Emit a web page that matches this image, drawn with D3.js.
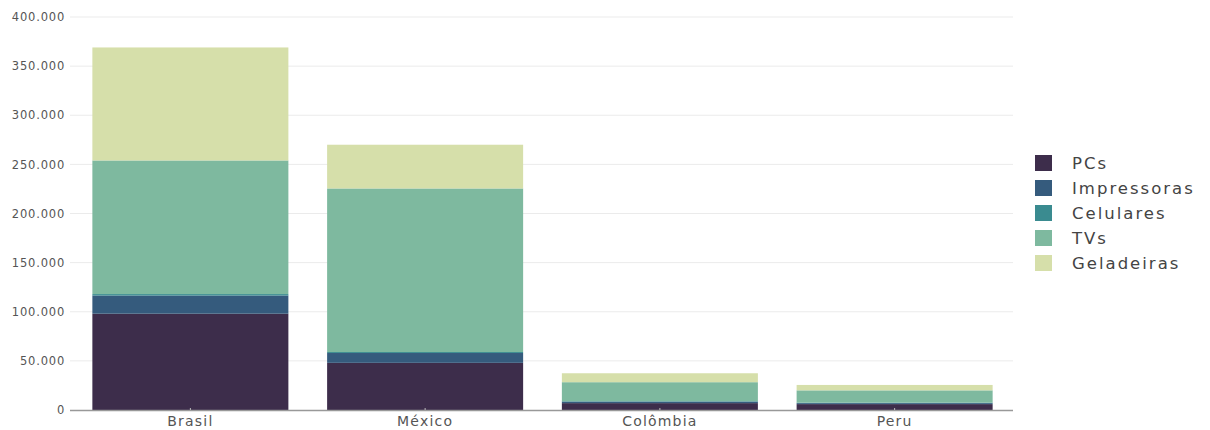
<!DOCTYPE html>
<html>
<head>
<meta charset="utf-8">
<script src="https://cdn.jsdelivr.net/npm/d3@7"></script>
<style>
  body { margin: 0; background: #fff; }
  svg text { font-family: "DejaVu Sans", "Open Sans", sans-serif; }
</style>
</head>
<body>
<div class="chart"></div>
<script>
// Data
const countries = ["Brasil", "México", "Colômbia", "Peru"];
const products = ["PCs", "Impressoras", "Celulares", "TVs", "Geladeiras"];
const pcs = [98000, 48000, 7000, 6000];
const impressoras = [18500, 10000, 1500, 1000];
const celulares = [1500, 1000, 500, 500];
const tvs = [136000, 166500, 19300, 12500];
const geladeiras = [115000, 44500, 9100, 5500];
const yTicks = [0, 50000, 100000, 150000, 200000, 250000, 300000, 350000, 400000];
const colors = ["#3d2d4b", "#355b7d", "#3a8b90", "#7eb99f", "#d6dfaa"];

const rows = countries.map((c, i) => ({
    country: c,
    PCs: pcs[i],
    Impressoras: impressoras[i],
    Celulares: celulares[i],
    TVs: tvs[i],
    Geladeiras: geladeiras[i]
}));

const width = 1210, height = 430;
const plot = { left: 73, right: 1012, top: 17, bottom: 410 };

const svg = d3.select(".chart")
    .append("svg")
    .attr("width", width)
    .attr("height", height);

const x = d3.scaleBand()
    .domain(countries)
    .range([plot.left, plot.right])
    .paddingInner(0.165)
    .paddingOuter(0.0825);

const y = d3.scaleLinear()
    .domain([0, 400000])
    .range([plot.bottom, plot.top]);

const color = d3.scaleOrdinal().domain(products).range(colors);

const ptBR = d3.formatLocale({ decimal: ",", thousands: ".", grouping: [3], currency: ["R$", ""] });
const fmt = ptBR.format(",d");

// gridlines
svg.append("g")
    .selectAll("line")
    .data(yTicks.slice(1))
    .enter()
    .append("line")
    .attr("x1", 70)
    .attr("x2", 1013)
    .attr("y1", d => y(d))
    .attr("y2", d => y(d))
    .attr("stroke", "#ebebeb")
    .attr("stroke-width", 1);

// y axis labels
const yAxis = svg.append("g")
    .attr("transform", "translate(70,0)")
    .call(d3.axisLeft(y).tickValues(yTicks).tickFormat(fmt).tickSize(0).tickPadding(5));
yAxis.select(".domain").remove();
yAxis.selectAll("text")
    .attr("fill", "#555")
    .style("font-size", "11.5px")
    .style("letter-spacing", "0.8px");

// stacked bars
const series = d3.stack().keys(products)(rows);

svg.append("g")
    .selectAll("g")
    .data(series)
    .enter()
    .append("g")
    .attr("fill", d => color(d.key))
    .selectAll("rect")
    .data(d => d)
    .enter()
    .append("rect")
    .attr("x", d => x(d.data.country))
    .attr("width", x.bandwidth())
    .attr("y", d => y(d[1]))
    .attr("height", d => y(d[0]) - y(d[1]));

// x axis
const xAxis = svg.append("g")
    .attr("transform", `translate(0,${plot.bottom})`)
    .call(d3.axisBottom(x).tickSize(2).tickPadding(4));
xAxis.select(".domain")
    .attr("d", `M70,0.5H1013`)
    .attr("stroke", "#999")
    .attr("stroke-width", 1.5);
xAxis.selectAll(".tick line")
    .attr("y1", -2)
    .attr("y2", 0)
    .attr("stroke", "#bbb");
xAxis.selectAll("text")
    .attr("fill", "#555")
    .style("font-size", "14px")
    .style("letter-spacing", "1.2px");

// legend
const legend = svg.append("g")
    .attr("transform", "translate(1035,163)");

const items = legend.selectAll("g")
    .data(products)
    .enter()
    .append("g")
    .attr("transform", (d, i) => `translate(0,${i * 25})`);

items.append("rect")
    .attr("x", 0)
    .attr("y", -8)
    .attr("width", 17)
    .attr("height", 16)
    .attr("fill", d => color(d));

items.append("text")
    .attr("x", 37)
    .attr("y", 0)
    .attr("dy", "0.35em")
    .attr("fill", "#444")
    .style("font-size", "16.5px")
    .style("letter-spacing", "2px")
    .text(d => d);
</script>
</body>
</html>
